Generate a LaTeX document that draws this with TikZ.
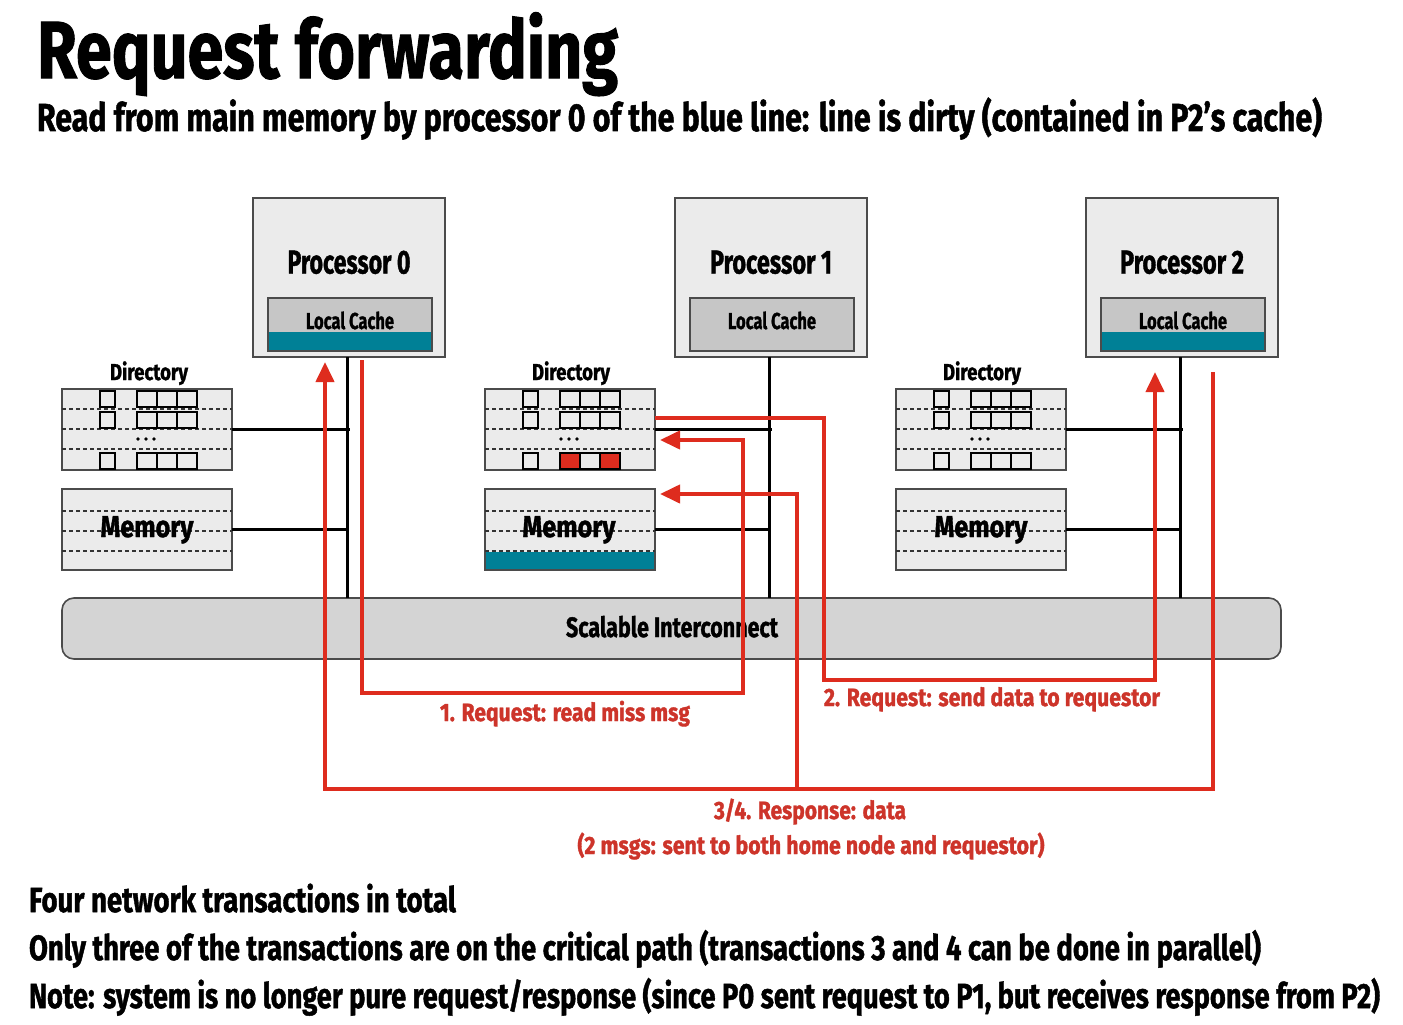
\documentclass[tikz,border=0pt]{standalone}
\usepackage{fontspec}
\setmainfont{Fira Sans}[BoldFeatures={FakeBold=1.4}]
\usetikzlibrary{arrows.meta,calc}
\definecolor{boxfill}{RGB}{235,235,235}
\definecolor{cachefill}{RGB}{198,198,198}
\definecolor{icfill}{RGB}{212,212,212}
\definecolor{edgegray}{RGB}{75,75,75}
\definecolor{tealc}{RGB}{0,128,150}
\definecolor{redc}{RGB}{222,44,30}
\definecolor{redtext}{RGB}{205,52,42}
\newcommand\fitbox[3]{\resizebox{#1pt}{\height}{\fontsize{#2pt}{#2pt}\selectfont\bfseries #3}}
\tikzset{
  procbox/.style={draw=edgegray,line width=1.6pt,fill=boxfill,inner sep=0,outer sep=0,minimum width=192pt,minimum height=159pt},
  cachebox/.style={draw=edgegray,line width=1.4pt,fill=cachefill,inner sep=0,outer sep=0,minimum width=164pt,minimum height=53pt},
  membox/.style={draw=edgegray,line width=1.6pt,fill=boxfill,inner sep=0,outer sep=0,minimum width=170pt,minimum height=81pt},
  icbox/.style={draw=edgegray,line width=1.6pt,fill=icfill,rounded corners=12pt,inner sep=0,outer sep=0,minimum width=1219pt,minimum height=61pt},
  lbl/.style={anchor=base,inner sep=0,outer sep=0},
  lblw/.style={anchor=base west,inner sep=0,outer sep=0},
  bus/.style={draw=black,line width=3pt},
  dashline/.style={draw=black!80,line width=1.4pt,dash pattern=on 4pt off 3pt},
  cell/.style={draw=black,line width=2pt},
  redline/.style={draw=redc,line width=4pt},
  redarrow/.style={draw=redc,line width=4pt,-{Triangle[length=20pt,width=18pt]}},
  dirgrid/.pic={
    \foreach \yy in {20,40,60} \draw[dashline] (0,\yy) -- (170,\yy);
    \foreach \r in {2,23,64} {
      \draw[cell] (38,\r) rectangle (53,\r+16);
      \draw[cell] (75,\r) rectangle (135,\r+16);
      \draw[cell] (95,\r) -- (95,\r+16);
      \draw[cell] (115,\r) -- (115,\r+16);
    }
    \foreach \xx in {76,84,92} \fill[black] (\xx,50) circle (1.9);
  },
  memgrid/.pic={
    \foreach \yy in {22,42,62} \draw[dashline] (0,\yy) -- (170,\yy);
  }
}
\begin{document}
\begin{tikzpicture}[x=1pt,y=-1pt]
\useasboundingbox (0,0) rectangle (1403,1025);
\fill[white] (0,0) rectangle (1403,1025);

% titles
\node[lblw] (title) at (37,78) {\fitbox{581}{81}{Request forwarding}};
\node[lblw] (subtitle) at (37,131) {\fitbox{1285}{39}{Read from main memory by processor 0 of the blue line: line is dirty (contained in P2’s cache)}};

% interconnect
\node[icbox] (IC) at (671.5,628.5) {};

% processors
\node[procbox] (P0) at (349,277.5) {};
\node[procbox] (P1) at (771,277.5) {};
\node[procbox] (P2) at (1182,277.5) {};
\node[cachebox] (C0) at (350,324.5) {};
\node[cachebox] (C1) at (772,324.5) {};
\node[cachebox] (C2) at (1183,324.5) {};
\fill[tealc] (C0.south west) rectangle ($(C0.south east)+(0,-19)$);
\fill[tealc] (C2.south west) rectangle ($(C2.south east)+(0,-19)$);
\draw[draw=edgegray,line width=1.4pt] (C0.south west) rectangle (C0.north east);
\draw[draw=edgegray,line width=1.4pt] (C2.south west) rectangle (C2.north east);

\node[lbl] (tp0) at (349,273.5) {\fitbox{123}{33}{Processor 0}};
\node[lbl] (tp1) at (771,273.5) {\fitbox{122}{33}{Processor 1}};
\node[lbl] (tp2) at (1182,273.5) {\fitbox{124}{33}{Processor 2}};
\node[lbl] (tc0) at (350,329) {\fitbox{88}{23}{Local Cache}};
\node[lbl] (tc1) at (772,329) {\fitbox{88}{23}{Local Cache}};
\node[lbl] (tc2) at (1183,329) {\fitbox{88}{23}{Local Cache}};

% directories
\node[membox] (D0) at (147,429.5) {};
\node[membox] (D1) at (570,429.5) {};
\node[membox] (D2) at (981,429.5) {};
\pic at (62,389) {dirgrid};
\pic at (485,389) {dirgrid};
\pic at (896,389) {dirgrid};
\draw[cell,fill=redc] (560,453) rectangle (580,469);
\draw[cell,fill=redc] (600,453) rectangle (620,469);
\node[lbl] (td0) at (149,380) {\fitbox{78}{23}{Directory}};
\node[lbl] (td1) at (571,380) {\fitbox{78}{23}{Directory}};
\node[lbl] (td2) at (982,380) {\fitbox{78}{23}{Directory}};

% memories
\node[membox] (M0) at (147,529.5) {};
\node[membox] (M1) at (570,529.5) {};
\node[membox] (M2) at (981,529.5) {};
\fill[tealc] (M1.south west) rectangle ($(M1.south east)+(0,-18)$);
\draw[draw=edgegray,line width=1.6pt] (M1.south west) rectangle (M1.north east);
\pic at (62,489) {memgrid};
\pic at (485,489) {memgrid};
\pic at (896,489) {memgrid};
\node[lbl] (tm0) at (147,537) {\fitbox{93}{30}{Memory}};
\node[lbl] (tm1) at (569,537) {\fitbox{93}{30}{Memory}};
\node[lbl] (tm2) at (981,537) {\fitbox{93}{30}{Memory}};

% buses
\coordinate (bus0) at (347,0);
\coordinate (bus1) at (769,0);
\coordinate (bus2) at (1180,0);
\draw[bus] (P0.south -| bus0) -- (IC.north -| bus0);
\draw[bus] (P1.south -| bus1) -- (IC.north -| bus1);
\draw[bus] (P2.south -| bus2) -- (IC.north -| bus2);
\draw[bus] (D0.east) -- ($(D0.east -| bus0)+(3,0)$);
\draw[bus] (D1.east) -- ($(D1.east -| bus1)+(3,0)$);
\draw[bus] (D2.east) -- ($(D2.east -| bus2)+(3,0)$);
\draw[bus] (M0.east) -- (M0.east -| bus0);
\draw[bus] (M1.east) -- (M1.east -| bus1);
\draw[bus] (M2.east) -- (M2.east -| bus2);

\node[lbl] (tic) at (672,637) {\fitbox{212}{28}{Scalable Interconnect}};

% red message paths
\coordinate (r1a) at (362,360);
\coordinate (k1) at (743,693);
\coordinate (d1in) at ($(D1.east)+(5,10.5)$);
\coordinate (d1out) at ($(D1.east)+(0,-11.5)$);
\coordinate (k2) at (824,680);
\coordinate (p2in) at (1155,372);
\coordinate (p2out) at (1213,372);
\coordinate (k3) at (325,789);
\coordinate (p0in) at (325,362);
\coordinate (k4) at (797,789);
\coordinate (m1in) at ($(M1.east)+(5,-35.5)$);

\draw[redarrow] (r1a) |- (k1) |- (d1in);
\draw[redarrow] (d1out) -| (k2) -| (p2in);
\draw[redarrow] (p2out) |- (k3) -- (p0in);
\draw[redarrow] (k4) |- (m1in);

% red labels
\node[lbl,text=redtext] (l1) at (565,721) {\fitbox{250}{25}{1. Request: read miss msg}};
\node[lbl,text=redtext] (l2) at (992,706) {\fitbox{336}{25}{2. Request: send data to requestor}};
\node[lbl,text=redtext] (l3) at (810,819) {\fitbox{192}{25}{3/4. Response: data}};
\node[lbl,text=redtext] (l4) at (811,854) {\fitbox{467}{25}{(2 msgs: sent to both home node and requestor)}};

% bottom notes
\node[lblw] (n1) at (29,912) {\fitbox{427}{35}{Four network transactions in total}};
\node[lblw] (n2) at (29,960) {\fitbox{1232}{35}{Only three of the transactions are on the critical path (transactions 3 and 4 can be done in parallel)}};
\node[lblw] (n3) at (29,1008) {\fitbox{1351}{35}{Note: system is no longer pure request/response (since P0 sent request to P1, but receives response from P2)}};
\end{tikzpicture}
\end{document}
